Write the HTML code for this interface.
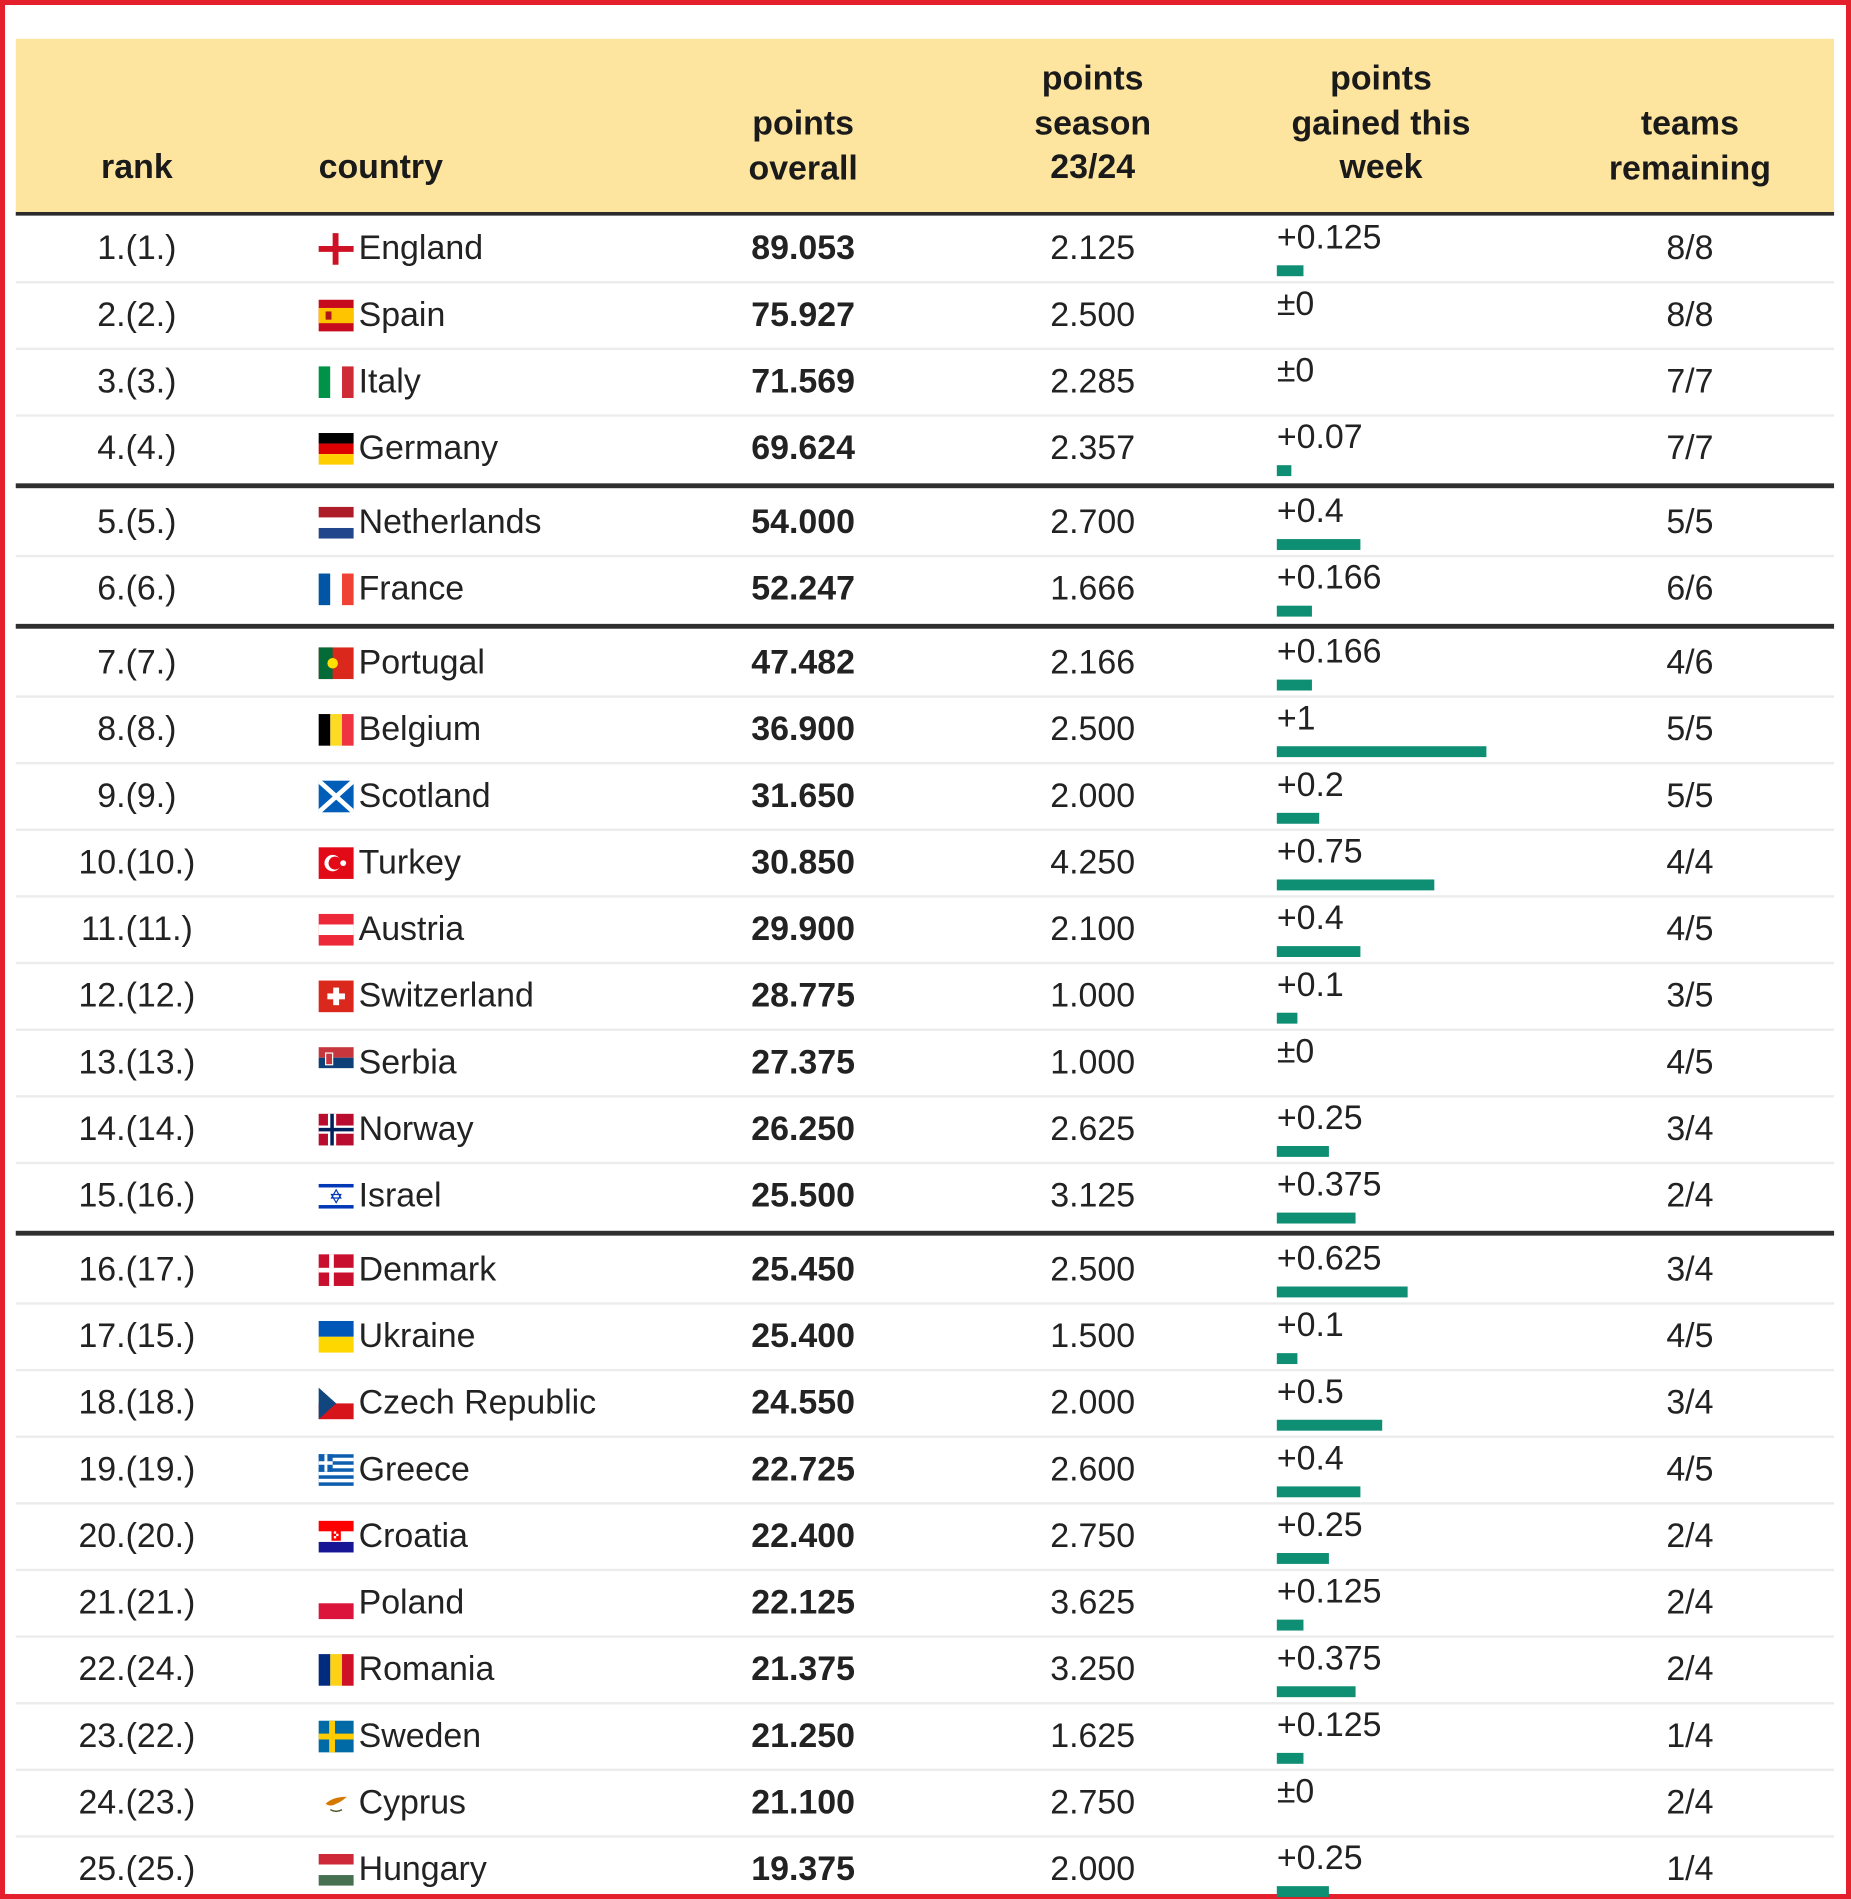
<!DOCTYPE html>
<html><head><meta charset="utf-8">
<style>
html,body{margin:0;padding:0;background:#fff;}
body{width:1851px;height:1899px;overflow:hidden;position:relative;font-family:"Liberation Sans",sans-serif;color:#222;}
#frame{position:absolute;left:0;top:0;width:1851px;height:1899px;box-sizing:border-box;border:5px solid #e3202b;}
#stage{position:absolute;left:0;top:0;width:1528px;height:1568px;transform:scale(1.2114);transform-origin:0 0;}
.abs{position:absolute;white-space:nowrap;}
.hdr{font-weight:bold;font-size:28px;line-height:36.5px;text-align:center;color:#1a1a1a;}
.cell{font-size:28px;line-height:30px;}
</style></head>
<body>
<div id="frame"></div>
<div id="stage">
  <div class="abs" style="left:13px;top:32px;width:1501px;height:143px;background:#fde5a0;"></div>
  <div class="abs" style="left:13px;top:175px;width:1501px;height:3px;background:#2b2b2b;"></div>
  <div class="abs hdr" style="left:53px;width:120px;top:120px;">rank</div>
  <div class="abs hdr" style="left:263px;top:120px;text-align:left;">country</div>
  <div class="abs hdr" style="left:563px;width:200px;top:84px;">points<br>overall</div>
  <div class="abs hdr" style="left:802px;width:200px;top:47px;">points<br>season<br>23/24</div>
  <div class="abs hdr" style="left:1020px;width:240px;top:47px;">points<br>gained this<br>week</div>
  <div class="abs hdr" style="left:1275px;width:240px;top:84px;">teams<br>remaining</div>
</div>
<script>
const ranks=[1,2,3,4,5,6,7,8,9,10,11,12,13,14,15,16,17,18,19,20,21,22,23,24,25];
const prevRanks=[1,2,3,4,5,6,7,8,9,10,11,12,13,14,16,17,15,18,19,20,21,24,22,23,25];
const countries=["England","Spain","Italy","Germany","Netherlands","France","Portugal","Belgium","Scotland","Turkey","Austria","Switzerland","Serbia","Norway","Israel","Denmark","Ukraine","Czech Republic","Greece","Croatia","Poland","Romania","Sweden","Cyprus","Hungary"];
const pointsOverall=["89.053","75.927","71.569","69.624","54.000","52.247","47.482","36.900","31.650","30.850","29.900","28.775","27.375","26.250","25.500","25.450","25.400","24.550","22.725","22.400","22.125","21.375","21.250","21.100","19.375"];
const pointsSeason=["2.125","2.500","2.285","2.357","2.700","1.666","2.166","2.500","2.000","4.250","2.100","1.000","1.000","2.625","3.125","2.500","1.500","2.000","2.600","2.750","3.625","3.250","1.625","2.750","2.000"];
const pointsGained=[0.125,0,0,0.07,0.4,0.166,0.166,1,0.2,0.75,0.4,0.1,0,0.25,0.375,0.625,0.1,0.5,0.4,0.25,0.125,0.375,0.125,0,0.25];
const teamsRemaining=["8/8","8/8","7/7","7/7","5/5","6/6","4/6","5/5","5/5","4/4","4/5","3/5","4/5","3/4","2/4","3/4","4/5","3/4","4/5","2/4","2/4","2/4","1/4","2/4","1/4"];
const groupBreaks=[3,5,14];

const flags={
England:'<rect width="30" height="27" fill="#fff"/><rect x="12" width="5" height="27" fill="#ce1124"/><rect y="11" width="30" height="5" fill="#ce1124"/>',
Spain:'<rect width="30" height="27" fill="#c60b1e"/><rect y="7" width="30" height="13" fill="#ffc400"/><rect x="6" y="10" width="5" height="7" fill="#ad1519"/>',
Italy:'<rect width="10" height="27" fill="#009246"/><rect x="10" width="10" height="27" fill="#fff"/><rect x="20" width="10" height="27" fill="#ce2b37"/>',
Germany:'<rect width="30" height="9" fill="#000"/><rect y="9" width="30" height="9" fill="#dd0000"/><rect y="18" width="30" height="9" fill="#ffce00"/>',
Netherlands:'<rect width="30" height="9" fill="#ae1c28"/><rect y="9" width="30" height="9" fill="#fff"/><rect y="18" width="30" height="9" fill="#21468b"/>',
France:'<rect width="10" height="27" fill="#0055a4"/><rect x="10" width="10" height="27" fill="#fff"/><rect x="20" width="10" height="27" fill="#ef4135"/>',
Portugal:'<rect width="30" height="27" fill="#da291c"/><rect width="12" height="27" fill="#046a38"/><circle cx="12" cy="13.5" r="4.5" fill="#ffe000"/>',
Belgium:'<rect width="10" height="27" fill="#000"/><rect x="10" width="10" height="27" fill="#fdda24"/><rect x="20" width="10" height="27" fill="#ef3340"/>',
Scotland:'<rect width="30" height="27" fill="#005eb8"/><path d="M0 0L30 27M30 0L0 27" stroke="#fff" stroke-width="4"/>',
Turkey:'<rect width="30" height="27" fill="#e30a17"/><circle cx="12" cy="13.5" r="7" fill="#fff"/><circle cx="14" cy="13.5" r="5.5" fill="#e30a17"/><circle cx="21" cy="13.5" r="2.5" fill="#fff"/>',
Austria:'<rect width="30" height="27" fill="#ed2939"/><rect y="9" width="30" height="9" fill="#fff"/>',
Switzerland:'<rect width="30" height="27" fill="#da291c"/><rect x="12.5" y="6" width="5" height="15" fill="#fff"/><rect x="7.5" y="11" width="15" height="5" fill="#fff"/>',
Serbia:'<rect width="30" height="9" fill="#c6363c"/><rect y="9" width="30" height="9" fill="#0c4076"/><rect y="18" width="30" height="9" fill="#fff"/><rect x="6" y="5" width="6" height="10" fill="#c6363c" stroke="#fff"/>',
Norway:'<rect width="30" height="27" fill="#ba0c2f"/><rect x="8" width="7" height="27" fill="#fff"/><rect y="10" width="30" height="7" fill="#fff"/><rect x="10" width="3" height="27" fill="#00205b"/><rect y="12" width="30" height="3" fill="#00205b"/>',
Israel:'<rect width="30" height="27" fill="#fff"/><rect y="3" width="30" height="3" fill="#0038b8"/><rect y="21" width="30" height="3" fill="#0038b8"/><path d="M15 8L19 15H11Z M15 19L11 12H19Z" fill="none" stroke="#0038b8" stroke-width="1"/>',
Denmark:'<rect width="30" height="27" fill="#c8102e"/><rect x="9" width="4" height="27" fill="#fff"/><rect y="11.5" width="30" height="4" fill="#fff"/>',
Ukraine:'<rect width="30" height="13.5" fill="#0057b7"/><rect y="13.5" width="30" height="13.5" fill="#ffd700"/>',
"Czech Republic":'<rect width="30" height="13.5" fill="#fff"/><rect y="13.5" width="30" height="13.5" fill="#d7141a"/><path d="M0 0L15 13.5L0 27Z" fill="#11457e"/>',
Greece:'<rect width="30" height="27" fill="#0d5eaf"/><rect y="3" width="30" height="3" fill="#fff"/><rect y="9" width="30" height="3" fill="#fff"/><rect y="15" width="30" height="3" fill="#fff"/><rect y="21" width="30" height="3" fill="#fff"/><rect width="12" height="15" fill="#0d5eaf"/><rect x="5" width="2.5" height="15" fill="#fff"/><rect y="6" width="12" height="3" fill="#fff"/>',
Croatia:'<rect width="30" height="9" fill="#ff0000"/><rect y="9" width="30" height="9" fill="#fff"/><rect y="18" width="30" height="9" fill="#171796"/><rect x="11" y="7" width="8" height="10" fill="#ff0000"/><rect x="13" y="9" width="2" height="2" fill="#fff"/><rect x="15" y="11" width="2" height="2" fill="#fff"/><rect x="13" y="13" width="2" height="2" fill="#fff"/>',
Poland:'<rect width="30" height="13.5" fill="#fff"/><rect y="13.5" width="30" height="13.5" fill="#dc143c"/>',
Romania:'<rect width="10" height="27" fill="#002b7f"/><rect x="10" width="10" height="27" fill="#fcd116"/><rect x="20" width="10" height="27" fill="#ce1126"/>',
Sweden:'<rect width="30" height="27" fill="#006aa7"/><rect x="9" width="5" height="27" fill="#fecc00"/><rect y="11" width="30" height="5" fill="#fecc00"/>',
Cyprus:'<rect width="30" height="27" fill="#fff"/><path d="M6 14Q12 8 24 8Q20 12 15 14Q10 17 6 14Z" fill="#d57800"/><path d="M10 19Q15 22 20 19" stroke="#4e5b31" stroke-width="1.2" fill="none"/>',
Hungary:'<rect width="30" height="9" fill="#ce2939"/><rect y="9" width="30" height="9" fill="#fff"/><rect y="18" width="30" height="9" fill="#477050"/>'
};

const stage=document.getElementById('stage');
const ROW0=205, ROWH=55, BREAK=6, UNIT=173, BARX=1054;
function rowCenter(i){let off=0;for(const b of groupBreaks){if(i>b)off+=BREAK;}return ROW0+i*ROWH+off;}
function barWidth(v){return v*UNIT;}
function add(html,css,name,cls){
  const d=document.createElement('div');
  d.className='abs '+(cls||'');
  d.style.cssText=css;
  d.innerHTML=html;
  
  
  stage.appendChild(d);
  return d;
}
for(let i=0;i<countries.length;i++){
  const c=rowCenter(i);
  if(i<countries.length-1){
    if(groupBreaks.includes(i)){
      add('', `left:13px;width:1501px;top:${c+ROWH/2+BREAK/2-2}px;height:4px;background:#2f2f2f;`, 'group-separator');
    } else {
      add('', `left:13px;width:1501px;top:${c+ROWH/2-1}px;height:2px;background:#ececec;`, 'row-separator');
    }
  }
  add(`${ranks[i]}.(${prevRanks[i]}.)`, `left:33px;width:160px;text-align:center;top:${c-15}px;`, 'rank-cell','cell');
  add(`<svg width="29" height="27" viewBox="0 0 30 27" style="display:block">${flags[countries[i]]}</svg>`, `left:263px;top:${c-13}px;width:29px;height:27px;`, 'flag-'+countries[i].toLowerCase().replace(/ /g,'-'));
  add(countries[i], `left:296px;top:${c-15}px;`, 'country-name','cell');
  add(pointsOverall[i], `left:563px;width:200px;text-align:center;top:${c-15}px;font-weight:bold;`, 'points-overall','cell');
  add(pointsSeason[i], `left:802px;width:200px;text-align:center;top:${c-15}px;`, 'points-season','cell');
  const v=pointsGained[i];
  add(v===0?'±0':'+'+v, `left:${BARX}px;top:${c-24}px;`, 'points-gained-label','cell');
  if(v>0){
    add('', `left:${BARX}px;top:${c+14}px;width:${barWidth(v)}px;height:9px;background:#0e8f74;`, 'points-gained-bar');
  }
  add(teamsRemaining[i], `left:1295px;width:200px;text-align:center;top:${c-15}px;`, 'teams-remaining','cell');
}
</script>
</body></html>
